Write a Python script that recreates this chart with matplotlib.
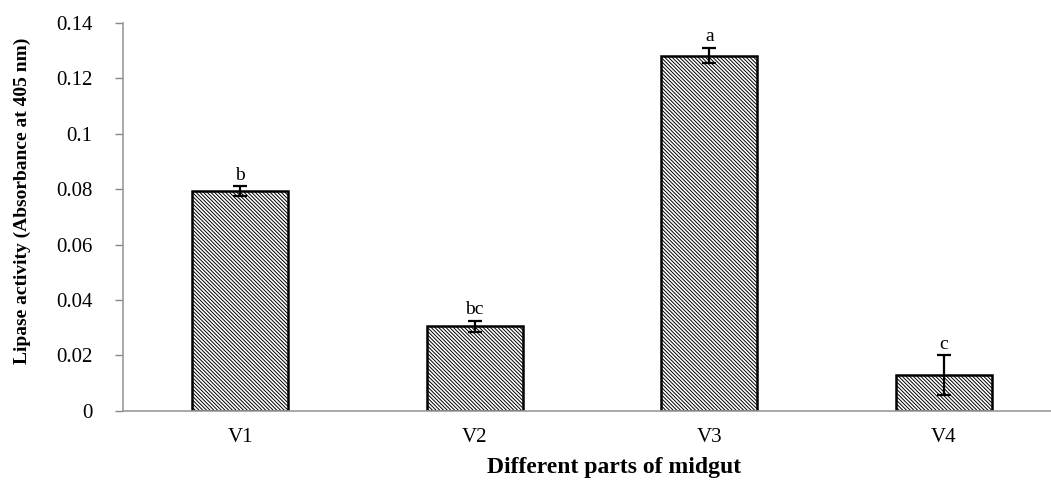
import numpy as np
import matplotlib.pyplot as plt

parts = ['V1', 'V2', 'V3', 'V4']
activity = [0.0792, 0.0306, 0.1282, 0.0128]
errors = [0.0018, 0.0020, 0.0028, 0.0072]
letters = ['b', 'bc', 'a', 'c']
yticks = [0, 0.02, 0.04, 0.06, 0.08, 0.1, 0.12, 0.14]
ytick_labels = ['0', '0.02', '0.04', '0.06', '0.08', '0.1', '0.12', '0.14']

plt.rcParams['font.family'] = ['Liberation Serif', 'DejaVu Serif']
plt.rcParams['hatch.linewidth'] = 0.7
plt.rcParams['hatch.color'] = '#333333'

fig = plt.figure(figsize=(10.51, 4.8), dpi=100)
ax = fig.add_axes([0.117, 0.144, 0.883, 0.808])

x = np.arange(len(parts)) + 0.5
ax.bar(x, activity, width=0.41, color='white', edgecolor='black',
       linewidth=1.8, hatch='\\' * 9, zorder=2)
ax.errorbar(x, activity, yerr=errors, fmt='none', ecolor='black',
            elinewidth=1.6, capsize=5, capthick=1.6, zorder=3)

for xi, v, e, t in zip(x, activity, errors, letters):
    ax.annotate(t, (xi, v + e), xytext=(0, 2), textcoords='offset points',
                ha='center', va='bottom', fontsize=14)

ax.set_xlim(0, (1051 - 123) / 234.5)
ax.set_ylim(0, 0.14)
ax.set_yticks(yticks)
ax.set_yticklabels(ytick_labels)
ax.set_xticks(x)
ax.set_xticklabels(parts)
ax.tick_params(axis='y', length=6, width=1, color='#888888', labelsize=15, pad=16)
ax.tick_params(axis='x', length=0, labelsize=15, pad=12)

for s in ['top', 'right']:
    ax.spines[s].set_visible(False)
for s in ['left', 'bottom']:
    ax.spines[s].set_color('#999999')
    ax.spines[s].set_linewidth(1.2)

fig.text(22 / 1051, 1 - 201 / 480, 'Lipase activity (Absorbance at 405 nm)',
         rotation=90, ha='center', va='center', fontsize=14, fontweight='bold')
fig.text(0.584, 1 - 467 / 480, 'Different parts of midgut',
         ha='center', va='center', fontsize=17, fontweight='bold')

fig.savefig('out.png', dpi=100)
